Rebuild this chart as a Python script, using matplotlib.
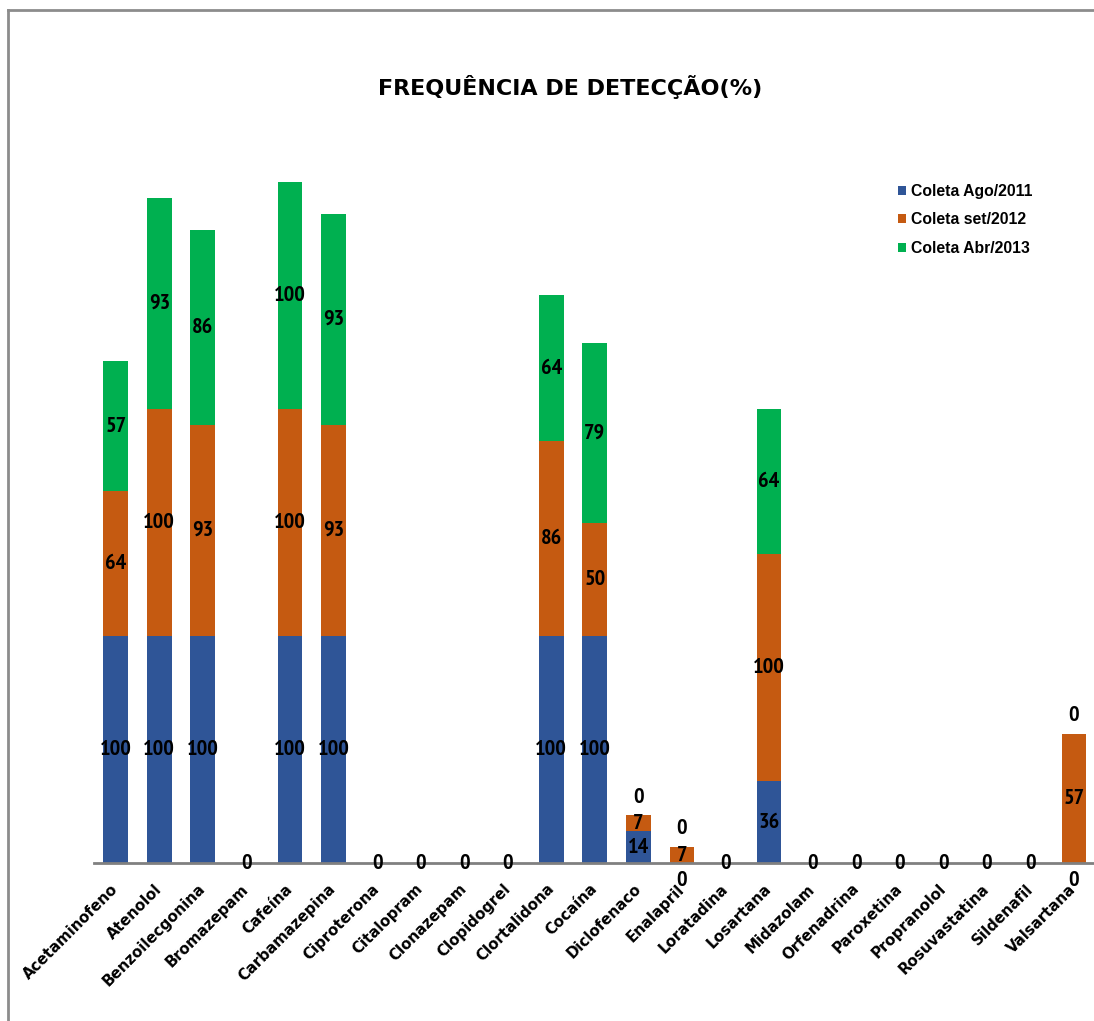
import matplotlib
matplotlib.use("Agg")
import matplotlib.pyplot as plt
from matplotlib.lines import Line2D
import numpy as np

# Substances analysed
compounds = ["Acetaminofeno", "Atenolol", "Benzoilecgonina", "Bromazepam", "Cafeína",
             "Carbamazepina", "Ciproterona", "Citalopram", "Clonazepam", "Clopidogrel",
             "Clortalidona", "Cocaína", "Diclofenaco", "Enalapril", "Loratadina",
             "Losartana", "Midazolam", "Orfenadrina", "Paroxetina", "Propranolol",
             "Rosuvastatina", "Sildenafil", "Valsartana"]

# Detection frequency (%) per sampling campaign
ago_2011 = [100, 100, 100, 0, 100, 100, 0, 0, 0, 0, 100, 100, 14, 0, 0, 36, 0, 0, 0, 0, 0, 0, 0]
set_2012 = [64, 100, 93, 0, 100, 93, 0, 0, 0, 0, 86, 50, 7, 7, 0, 100, 0, 0, 0, 0, 0, 0, 57]
abr_2013 = [57, 93, 86, 0, 100, 93, 0, 0, 0, 0, 64, 79, 0, 0, 0, 64, 0, 0, 0, 0, 0, 0, 0]

series_names = ["Coleta Ago/2011", "Coleta set/2012", "Coleta Abr/2013"]
colors = ["#2F5597", "#C55A11", "#00B050"]

W, H = 1094, 1021
fig = plt.figure(figsize=(W / 100, H / 100), dpi=100)
fig.patch.set_facecolor("white")

px_per_unit = 2.27
ymax = 320
ax_bottom = (H - 863) / H
ax_height = ymax * px_per_unit / H
ax = fig.add_axes([94 / W, ax_bottom, 1 - 94 / W, ax_height])

x = np.arange(len(compounds))
series = [np.array(ago_2011), np.array(set_2012), np.array(abr_2013)]
bottom = np.zeros(len(compounds))
bar_w = 0.57
val_font = dict(family=["PT Sans Narrow", "Roboto Condensed", "DejaVu Sans"],
                fontweight="bold", fontsize=16, color="black")

totals = sum(series)
for k, (vals, col, name) in enumerate(zip(series, colors, series_names)):
    ax.bar(x, vals, bar_w, bottom=bottom, color=col, label=name, zorder=2)
    for i, v in enumerate(vals):
        if v > 0:
            ypos = bottom[i] + v / 2
        elif totals[i] == 0:
            ypos = 0
        elif bottom[i] == 0:
            ypos = -7.5
        else:
            ypos = bottom[i] + 8
        if totals[i] == 0 and k > 0:
            continue
        ax.text(x[i], ypos, f"{v}", ha="center", va="center", clip_on=False,
                zorder=4, **val_font)
    bottom = bottom + vals

ax.set_xlim(-0.5, 22.46)
ax.set_ylim(0, ymax)
for s in ["top", "right", "left"]:
    ax.spines[s].set_visible(False)
ax.spines["bottom"].set_color("#808080")
ax.spines["bottom"].set_linewidth(2)
ax.spines["bottom"].set_zorder(3)
ax.set_yticks([])
ax.set_xticks(x)
ax.set_xticklabels(compounds, rotation=45, ha="right", va="center",
                   rotation_mode="anchor", fontsize=10.8, fontweight="bold",
                   family="DejaVu Sans")
ax.tick_params(axis="x", length=0, pad=17)

# Title
fig.text(570 / W, 1 - 87 / H, "FREQUÊNCIA DE DETECÇÃO(%)", ha="center", va="center",
         fontsize=16, fontweight="bold", family="DejaVu Sans")

# Legend
leg = ax.legend(loc="upper left", bbox_to_anchor=(884 / W, 1 - 170 / H),
                bbox_transform=fig.transFigure, frameon=False,
                prop=dict(family=["Liberation Sans", "DejaVu Sans"], weight="bold", size=11.3),
                handlelength=0.5, handleheight=0.5, handletextpad=0.3,
                labelspacing=0.85)

# Outer frame
fig.add_artist(Line2D([8 / W, 1.0], [1 - 10 / H, 1 - 10 / H], transform=fig.transFigure,
                      color="#8c8c8c", lw=2))
fig.add_artist(Line2D([8 / W, 8 / W], [0, 1 - 10 / H], transform=fig.transFigure,
                      color="#8c8c8c", lw=2))

fig.savefig("out.png", dpi=100, facecolor="white")
